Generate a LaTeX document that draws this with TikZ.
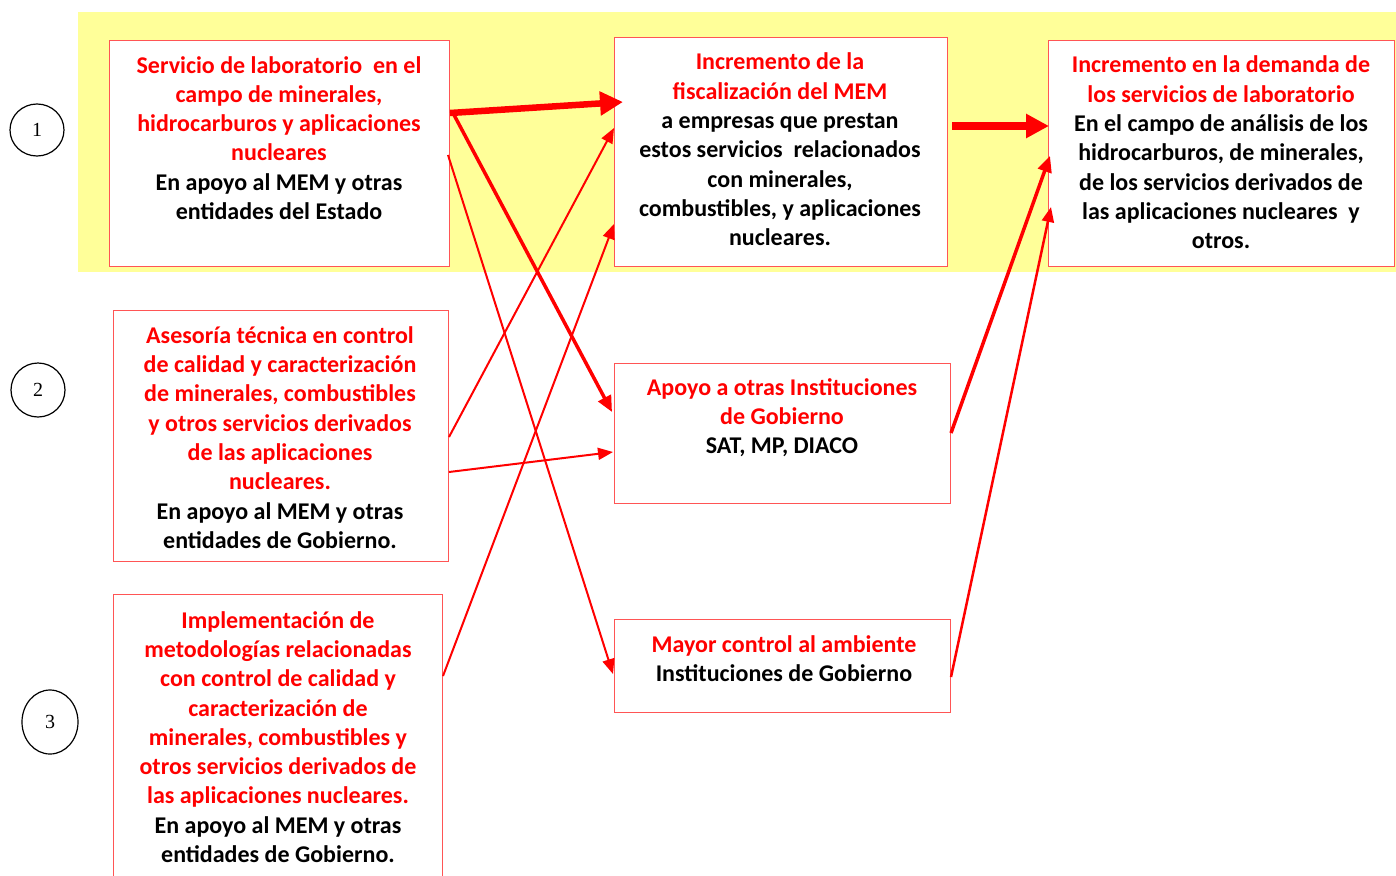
\documentclass[tikz,border=0pt]{standalone}
\usepackage{fontspec}
\setmainfont{Carlito}
\newfontfamily\numfont{Liberation Serif}
\usetikzlibrary{arrows.meta,calc,shapes.geometric}
\definecolor{bandyellow}{RGB}{255,255,153}
\definecolor{boxred}{RGB}{255,85,85}
\definecolor{txtred}{RGB}{255,0,0}
\newcommand{\bl}[1]{\textcolor{black}{#1}}
\tikzset{
  box/.style={draw=boxred, line width=1pt, fill=white, anchor=north west, inner sep=0pt},
  txt/.style={align=center, text=txtred, font=\fontsize{24}{29.3}\selectfont\bfseries, inner sep=0pt},
  num/.style={draw=black, line width=1.2pt, ellipse, inner sep=0pt, font=\numfont\fontsize{20}{24}\selectfont},
  conn/.style={draw=txtred, line width=2pt, -{Triangle[length=15pt,width=12pt]}},
  connmid/.style={draw=txtred, line width=3.5pt, -{Triangle[length=16pt,width=14pt]}},
  connthick/.style={draw=txtred, line width=6.5pt, -{Triangle[length=23pt,width=23pt]}},
}
\begin{document}
\begin{tikzpicture}[x=1pt,y=-1pt]
\useasboundingbox (0,0) rectangle (1396,875);
\clip (0,0) rectangle (1396,875);
\fill[bandyellow] (78,12) rectangle (1396,272);

% circles
\node[num, minimum width=54pt, minimum height=52pt] (n1) at (37,130) {1};
\node[num, minimum width=54pt, minimum height=54pt] (n2) at (38,390) {2};
\node[num, minimum width=56pt, minimum height=64pt] (n3) at (50,722) {3};

% boxes
\node[box, minimum width=340pt, minimum height=226pt] (A) at (109,40) {};
\node[box, minimum width=333pt, minimum height=229pt] (B) at (614,37) {};
\node[box, minimum width=346pt, minimum height=226pt] (C) at (1048,40) {};
\node[box, minimum width=335pt, minimum height=251pt] (D) at (113,310) {};
\node[box, minimum width=336pt, minimum height=140pt] (E) at (614,363) {};
\node[box, minimum width=329pt, minimum height=320pt] (F) at (113,594) {};
\node[box, minimum width=336pt, minimum height=93pt] (G) at (614,619) {};

% texts
\node[txt] (At) at (279,138) {Servicio de laboratorio\ \ en el\\campo de minerales,\\hidrocarburos y aplicaciones\\nucleares\\\bl{En apoyo al MEM y otras}\\\bl{entidades del Estado}};
\node[txt] (Bt) at (780,149.5) {Incremento de la\\fiscalización del MEM\\\bl{a empresas que prestan}\\\bl{estos servicios\ \ relacionados}\\\bl{con minerales,}\\\bl{combustibles, y aplicaciones}\\\bl{nucleares.}};
\node[txt] (Ct) at (1221,152.5) {Incremento en la demanda de\\los servicios de laboratorio\\\bl{En el campo de análisis de los}\\\bl{hidrocarburos, de minerales,}\\\bl{de los servicios derivados de}\\\bl{las aplicaciones nucleares\ \ y}\\\bl{otros.}};
\node[txt] (Dt) at (280,437.5) {Asesoría técnica en control\\de calidad y caracterización\\de minerales, combustibles\\y otros servicios derivados\\de las aplicaciones\\nucleares.\\\bl{En apoyo al MEM y otras}\\\bl{entidades de Gobierno.}};
\node[txt] (Et) at (782,417.5) {Apoyo a otras Instituciones\\de Gobierno\\\bl{SAT, MP, DIACO}};
\node[txt] (Ft) at (278,737) {Implementación de\\metodologías relacionadas\\con control de calidad y\\caracterización de\\minerales, combustibles y\\otros servicios derivados de\\las aplicaciones nucleares.\\\bl{En apoyo al MEM y otras}\\\bl{entidades de Gobierno.}};
\node[txt] (Gt) at (784,659) {Mayor control al ambiente\\\bl{Instituciones de Gobierno}};

% connectors
\draw[connthick] ($(A.north east)+(0,73)$) -- ($(B.north west)+(9,65)$);
\draw[connmid] ($(A.north east)+(3,73)$) -- ($(E.north west)+(-2,49)$);
\draw[conn] ($(A.north east)+(-2,115)$) -- ($(G.north west)+(-1,55)$);
\draw[conn] ($(D.north east)+(0,127)$) -- ($(B.north west)+(0,91)$);
\draw[conn] ($(D.north east)+(0,162)$) -- ($(E.north west)+(-1,89)$);
\draw[conn] ($(F.north east)+(0,82)$) -- ($(B.north west)+(0,187)$);
\draw[connthick, line width=8pt] ($(B.north east)+(4,89)$) -- ($(C.north west)+(1,86)$);
\draw[connmid] ($(E.north east)+(0,70)$) -- ($(C.north west)+(2,116)$);
\draw[conn, line width=2.5pt] ($(G.north east)+(0,58)$) -- ($(C.north west)+(3,167)$);
\end{tikzpicture}
\end{document}
